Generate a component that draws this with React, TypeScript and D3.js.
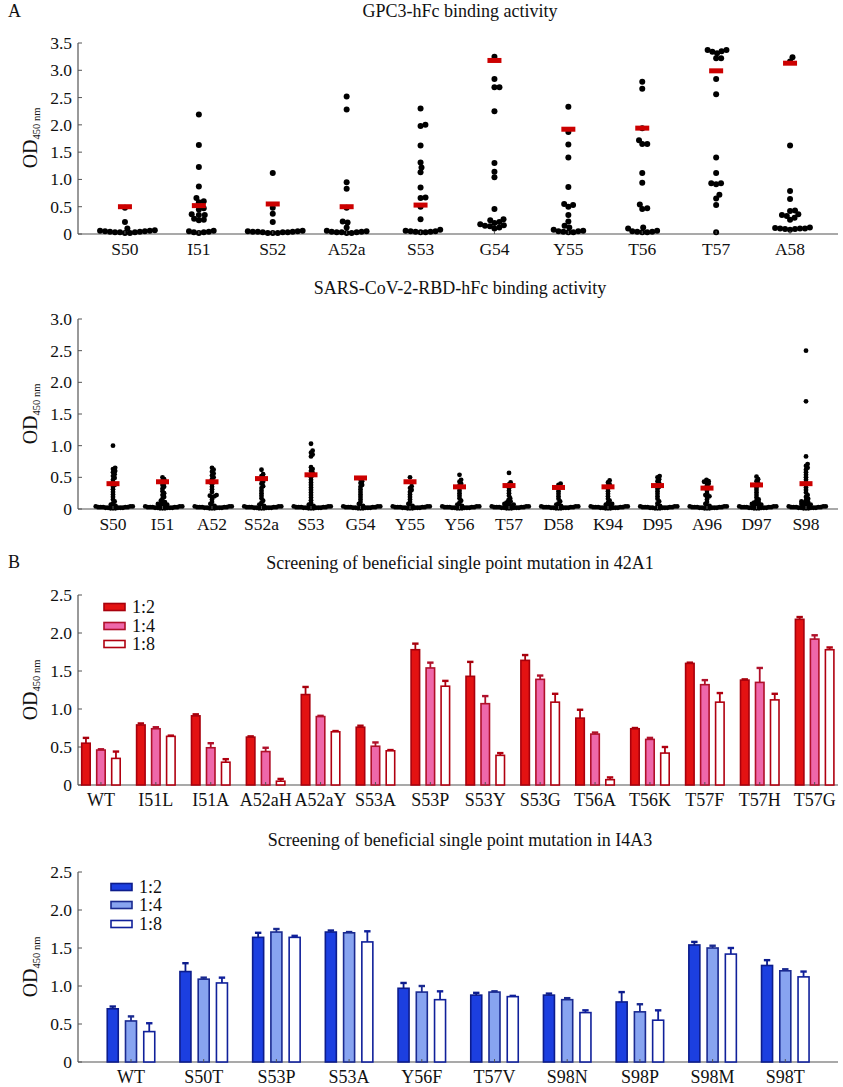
import React from 'react';
import * as d3 from 'd3';

// ---------- Panel A1: GPC3-hFc ----------
const gpcCategories = ['S50', 'I51', 'S52', 'A52a', 'S53', 'G54', 'Y55', 'T56', 'T57', 'A58'];
const gpcMeans = [0.5, 0.52, 0.55, 0.5, 0.53, 3.18, 1.92, 1.94, 2.99, 3.13];
const gpcS50 = [0.48, 0.22, 0.1, 0.07, 0.06, 0.05, 0.05, 0.04, 0.04, 0.03, 0.03, 0.03, 0.02, 0.02, 0.06];
const gpcI51 = [2.19, 1.63, 1.23, 0.87, 0.66, 0.6, 0.58, 0.47, 0.45, 0.36, 0.35, 0.35, 0.28, 0.26, 0.25, 0.06, 0.05, 0.04, 0.03, 0.03, 0.02];
const gpcS52 = [1.12, 0.48, 0.37, 0.22, 0.06, 0.05, 0.05, 0.04, 0.04, 0.04, 0.03, 0.03, 0.03, 0.02, 0.02, 0.02];
const gpcA52a = [2.52, 2.28, 0.95, 0.83, 0.48, 0.23, 0.21, 0.12, 0.06, 0.05, 0.04, 0.04, 0.03, 0.03, 0.03, 0.02, 0.02];
const gpcS53 = [2.3, 2.0, 1.98, 1.62, 1.31, 1.22, 1.13, 0.85, 0.67, 0.66, 0.5, 0.27, 0.08, 0.06, 0.05, 0.05, 0.04, 0.04, 0.03, 0.03];
const gpcG54 = [3.25, 2.84, 2.69, 2.69, 2.25, 1.3, 1.14, 1.04, 0.46, 0.27, 0.25, 0.22, 0.2, 0.18, 0.16, 0.15, 0.14, 0.12, 0.1];
const gpcY55 = [2.33, 1.87, 1.64, 1.4, 0.86, 0.55, 0.53, 0.5, 0.35, 0.23, 0.15, 0.12, 0.08, 0.06, 0.05, 0.05, 0.04, 0.03, 0.03];
const gpcT56 = [2.79, 2.66, 1.94, 1.72, 1.65, 1.65, 1.12, 0.94, 0.54, 0.47, 0.46, 0.12, 0.1, 0.06, 0.05, 0.04, 0.04, 0.03, 0.03];
const gpcT57 = [3.37, 3.31, 3.37, 3.35, 3.34, 3.22, 3.22, 2.84, 2.56, 1.4, 1.12, 0.93, 0.93, 0.91, 0.72, 0.65, 0.53, 0.03];
const gpcA58 = [3.24, 3.16, 1.62, 0.79, 0.64, 0.43, 0.42, 0.36, 0.35, 0.33, 0.3, 0.26, 0.12, 0.11, 0.1, 0.1, 0.1, 0.09, 0.09, 0.08];
const gpcValues = [gpcS50, gpcI51, gpcS52, gpcA52a, gpcS53, gpcG54, gpcY55, gpcT56, gpcT57, gpcA58];
const gpcTicks = [0, 0.5, 1.0, 1.5, 2.0, 2.5, 3.0, 3.5];

// ---------- Panel A2: SARS-CoV-2-RBD-hFc ----------
const sarsCategories = ['S50', 'I51', 'A52', 'S52a', 'S53', 'G54', 'Y55', 'Y56', 'T57', 'D58', 'K94', 'D95', 'A96', 'D97', 'S98'];
const sarsMeans = [0.4, 0.43, 0.43, 0.48, 0.54, 0.49, 0.43, 0.35, 0.37, 0.34, 0.35, 0.37, 0.33, 0.38, 0.4];
const sarsS50 = [1.0, 0.65, 0.63, 0.6, 0.58, 0.55, 0.52, 0.49, 0.46, 0.42, 0.38, 0.35, 0.31, 0.27, 0.23, 0.19, 0.15, 0.12, 0.09, 0.07, 0.05, 0.04, 0.04, 0.03, 0.03, 0.03, 0.02, 0.02, 0.02, 0.01, 0.01, 0.05, 0.04, 0.03, 0.02, 0.01, 0.03, 0.02];
const sarsI51 = [0.5, 0.47, 0.44, 0.41, 0.38, 0.35, 0.32, 0.28, 0.25, 0.22, 0.19, 0.16, 0.13, 0.11, 0.1, 0.08, 0.07, 0.06, 0.05, 0.04, 0.04, 0.03, 0.03, 0.03, 0.02, 0.02, 0.02, 0.01, 0.01, 0.05, 0.04, 0.03, 0.02, 0.01, 0.03, 0.02];
const sarsA52 = [0.65, 0.62, 0.59, 0.56, 0.53, 0.5, 0.47, 0.43, 0.39, 0.35, 0.31, 0.27, 0.22, 0.21, 0.2, 0.19, 0.15, 0.11, 0.08, 0.05, 0.04, 0.04, 0.03, 0.03, 0.03, 0.02, 0.02, 0.02, 0.01, 0.01, 0.05, 0.04, 0.03, 0.02, 0.01, 0.03, 0.02];
const sarsS52a = [0.62, 0.55, 0.52, 0.49, 0.46, 0.43, 0.4, 0.36, 0.33, 0.29, 0.25, 0.21, 0.17, 0.13, 0.1, 0.07, 0.05, 0.04, 0.04, 0.03, 0.03, 0.03, 0.02, 0.02, 0.02, 0.01, 0.01, 0.05, 0.04, 0.03, 0.02, 0.01, 0.03, 0.02];
const sarsS53 = [1.03, 0.92, 0.89, 0.86, 0.83, 0.66, 0.63, 0.6, 0.57, 0.54, 0.5, 0.46, 0.42, 0.38, 0.34, 0.3, 0.26, 0.22, 0.18, 0.14, 0.1, 0.07, 0.05, 0.04, 0.04, 0.03, 0.03, 0.03, 0.02, 0.02, 0.02, 0.01, 0.01, 0.05, 0.04, 0.03, 0.02, 0.01, 0.03, 0.02];
const sarsG54 = [0.47, 0.44, 0.41, 0.38, 0.35, 0.31, 0.27, 0.23, 0.19, 0.15, 0.11, 0.08, 0.05, 0.04, 0.04, 0.03, 0.03, 0.03, 0.02, 0.02, 0.02, 0.01, 0.01, 0.05, 0.04, 0.03, 0.02, 0.01, 0.03, 0.02];
const sarsY55 = [0.5, 0.36, 0.33, 0.3, 0.27, 0.23, 0.19, 0.15, 0.11, 0.08, 0.05, 0.04, 0.04, 0.03, 0.03, 0.03, 0.02, 0.02, 0.02, 0.01, 0.01, 0.05, 0.04, 0.03, 0.02, 0.01, 0.03, 0.02];
const sarsY56 = [0.54, 0.46, 0.43, 0.4, 0.37, 0.33, 0.29, 0.25, 0.21, 0.17, 0.13, 0.1, 0.07, 0.05, 0.04, 0.04, 0.03, 0.03, 0.03, 0.02, 0.02, 0.02, 0.01, 0.01, 0.05, 0.04, 0.03, 0.02, 0.01, 0.03, 0.02];
const sarsT57 = [0.57, 0.42, 0.39, 0.36, 0.33, 0.29, 0.25, 0.21, 0.17, 0.14, 0.12, 0.1, 0.09, 0.08, 0.07, 0.06, 0.05, 0.04, 0.04, 0.03, 0.03, 0.03, 0.02, 0.02, 0.02, 0.01, 0.01, 0.05, 0.04, 0.03, 0.02, 0.01, 0.03, 0.02];
const sarsD58 = [0.4, 0.38, 0.35, 0.32, 0.28, 0.24, 0.2, 0.16, 0.12, 0.09, 0.07, 0.05, 0.04, 0.04, 0.03, 0.03, 0.03, 0.02, 0.02, 0.02, 0.01, 0.01, 0.05, 0.04, 0.03, 0.02, 0.01, 0.03, 0.02];
const sarsK94 = [0.45, 0.42, 0.39, 0.36, 0.32, 0.28, 0.24, 0.2, 0.16, 0.13, 0.1, 0.08, 0.07, 0.05, 0.04, 0.04, 0.03, 0.03, 0.03, 0.02, 0.02, 0.02, 0.01, 0.01, 0.05, 0.04, 0.03, 0.02, 0.01, 0.03, 0.02];
const sarsD95 = [0.52, 0.5, 0.47, 0.44, 0.41, 0.38, 0.35, 0.32, 0.28, 0.24, 0.2, 0.16, 0.12, 0.09, 0.05, 0.04, 0.04, 0.03, 0.03, 0.03, 0.02, 0.02, 0.02, 0.01, 0.01, 0.05, 0.04, 0.03, 0.02, 0.01, 0.03, 0.02];
const sarsA96 = [0.46, 0.44, 0.43, 0.42, 0.4, 0.37, 0.33, 0.29, 0.25, 0.22, 0.2, 0.19, 0.15, 0.11, 0.08, 0.05, 0.04, 0.04, 0.03, 0.03, 0.03, 0.02, 0.02, 0.02, 0.01, 0.01, 0.05, 0.04, 0.03, 0.02, 0.01, 0.03, 0.02];
const sarsD97 = [0.51, 0.47, 0.44, 0.41, 0.38, 0.34, 0.3, 0.26, 0.22, 0.18, 0.15, 0.13, 0.11, 0.1, 0.09, 0.08, 0.07, 0.06, 0.05, 0.04, 0.04, 0.03, 0.03, 0.03, 0.02, 0.02, 0.02, 0.01, 0.01, 0.05, 0.04, 0.03, 0.02, 0.01, 0.03, 0.02];
const sarsS98 = [2.5, 1.7, 0.83, 0.71, 0.68, 0.65, 0.62, 0.58, 0.54, 0.5, 0.46, 0.42, 0.38, 0.34, 0.3, 0.26, 0.22, 0.19, 0.16, 0.14, 0.12, 0.11, 0.1, 0.09, 0.08, 0.07, 0.06, 0.05, 0.04, 0.04, 0.03, 0.03, 0.03, 0.02, 0.02, 0.02, 0.01, 0.01, 0.05, 0.04, 0.03, 0.02, 0.01, 0.03, 0.02];
const sarsValues = [sarsS50, sarsI51, sarsA52, sarsS52a, sarsS53, sarsG54, sarsY55, sarsY56, sarsT57, sarsD58, sarsK94, sarsD95, sarsA96, sarsD97, sarsS98];
const sarsTicks = [0, 0.5, 1.0, 1.5, 2.0, 2.5, 3.0];

// ---------- Panel B1: 42A1 ----------
const dilutions = ['1:2', '1:4', '1:8'];
const m42Categories = ['WT', 'I51L', 'I51A', 'A52aH', 'A52aY', 'S53A', 'S53P', 'S53Y', 'S53G', 'T56A', 'T56K', 'T57F', 'T57H', 'T57G'];
const m42Dil2 = [0.55, 0.79, 0.91, 0.63, 1.19, 0.76, 1.78, 1.43, 1.64, 0.88, 0.74, 1.6, 1.38, 2.18];
const m42Dil4 = [0.46, 0.74, 0.49, 0.44, 0.9, 0.51, 1.54, 1.07, 1.39, 0.67, 0.6, 1.32, 1.35, 1.92];
const m42Dil8 = [0.35, 0.64, 0.3, 0.05, 0.7, 0.45, 1.3, 0.39, 1.09, 0.07, 0.42, 1.09, 1.12, 1.78];
const m42Err2 = [0.07, 0.02, 0.02, 0.01, 0.1, 0.02, 0.08, 0.19, 0.07, 0.11, 0.01, 0.01, 0.01, 0.03];
const m42Err4 = [0.01, 0.02, 0.06, 0.05, 0.01, 0.05, 0.07, 0.1, 0.05, 0.02, 0.02, 0.06, 0.19, 0.05];
const m42Err8 = [0.09, 0.01, 0.04, 0.03, 0.01, 0.01, 0.07, 0.03, 0.11, 0.03, 0.08, 0.12, 0.08, 0.03];

// ---------- Panel B2: I4A3 ----------
const i4Categories = ['WT', 'S50T', 'S53P', 'S53A', 'Y56F', 'T57V', 'S98N', 'S98P', 'S98M', 'S98T'];
const i4Dil2 = [0.7, 1.19, 1.64, 1.71, 0.97, 0.88, 0.88, 0.79, 1.54, 1.27];
const i4Dil4 = [0.54, 1.09, 1.71, 1.7, 0.92, 0.92, 0.82, 0.66, 1.5, 1.2];
const i4Dil8 = [0.4, 1.04, 1.64, 1.58, 0.82, 0.86, 0.65, 0.55, 1.42, 1.12];
const i4Err2 = [0.03, 0.11, 0.06, 0.02, 0.07, 0.03, 0.02, 0.13, 0.04, 0.07];
const i4Err4 = [0.06, 0.02, 0.04, 0.01, 0.08, 0.01, 0.02, 0.1, 0.03, 0.02];
const i4Err8 = [0.11, 0.07, 0.02, 0.14, 0.11, 0.01, 0.03, 0.13, 0.08, 0.07];
const barTicks = [0, 0.5, 1.0, 1.5, 2.0, 2.5];

const FONT = '"Liberation Serif", "Times New Roman", serif';
const AXIS = '#555';
const MEAN_RED = '#cc0000';

function fmt(t: number) {
  return t === 0 ? '0' : t.toFixed(1);
}

function swarm(values: number[], y: (v: number) => number, d: number) {
  const pts = values.map((v) => ({ v, y: y(v) })).sort((a, b) => b.y - a.y);
  const placed: { x: number; y: number }[] = [];
  for (const p of pts) {
    const cands = [0];
    for (const q of placed) {
      const dy = q.y - p.y;
      if (Math.abs(dy) < d) {
        const dx = Math.sqrt(d * d - dy * dy);
        cands.push(q.x + dx, q.x - dx);
      }
    }
    cands.sort((a, b) => Math.abs(a) - Math.abs(b));
    let best = 0;
    for (const c of cands) {
      if (placed.every((q) => (q.x - c) ** 2 + (q.y - p.y) ** 2 >= d * d - 1e-6)) {
        best = c;
        break;
      }
    }
    placed.push({ x: best, y: p.y });
  }
  return placed;
}

function YAxis({ y, ticks, x0, x1 }: { y: any; ticks: number[]; x0: number; x1: number }) {
  const [r0, r1] = y.range();
  return (
    <g>
      <line x1={x0} x2={x0} y1={r0} y2={r1} stroke={AXIS} strokeWidth={1.2} />
      <line x1={x0} x2={x1} y1={r0} y2={r0} stroke={AXIS} strokeWidth={1.2} />
      {ticks.map((t) => (
        <g key={t}>
          <line x1={x0} x2={x0 + 4} y1={y(t)} y2={y(t)} stroke={AXIS} strokeWidth={1} />
          <text x={x0 - 6} y={y(t) + 6} textAnchor="end" fontSize={17.5} fontFamily={FONT} fill="#111">
            {fmt(t)}
          </text>
        </g>
      ))}
    </g>
  );
}

function YLabel({ cy }: { cy: number }) {
  return (
    <text transform={`translate(37, ${cy}) rotate(-90)`} textAnchor="middle" fontFamily={FONT} fill="#111">
      <tspan fontSize={20}>OD</tspan>
      <tspan fontSize={10.5} dy={3}>450 nm</tspan>
    </text>
  );
}

function XLabels({ x, cats, y0, fs }: { x: any; cats: string[]; y0: number; fs: number }) {
  return (
    <g>
      {cats.map((c) => (
        <g key={c}>
          <line x1={x(c) + x.bandwidth() / 2} x2={x(c) + x.bandwidth() / 2} y1={y0} y2={y0 - 3} stroke={AXIS} strokeWidth={1} />
          <text x={x(c) + x.bandwidth() / 2} y={y0 + 21} textAnchor="middle" fontSize={fs} fontFamily={FONT} fill="#111">
            {c}
          </text>
        </g>
      ))}
    </g>
  );
}

function DotPanel({
  cats, values, means, ticks, yTop, yBottom, xRange, r, d, markW, markH,
}: {
  cats: string[]; values: number[][]; means: number[]; ticks: number[]; yTop: number; yBottom: number;
  xRange: [number, number]; r: number; d: number; markW: number; markH: number;
}) {
  const y = d3.scaleLinear().domain([0, ticks[ticks.length - 1]]).range([yBottom, yTop]);
  const x = d3.scaleBand<string>().domain(cats).range(xRange).padding(0);
  return (
    <g>
      <YAxis y={y} ticks={ticks} x0={78} x1={838} />
      {cats.map((c, i) => {
        const cx = (x(c) as number) + x.bandwidth() / 2;
        const pts = swarm(values[i], y, d);
        return (
          <g key={c}>
            {pts.map((p, j) => (
              <circle key={j} cx={cx + p.x} cy={p.y} r={r} fill="#000" />
            ))}
            <rect x={cx - markW / 2} y={y(means[i]) - markH / 2} width={markW} height={markH} fill={MEAN_RED} />
          </g>
        );
      })}
      <XLabels x={x} cats={cats} y0={yBottom} fs={17.5} />
    </g>
  );
}

function BarPanel({
  cats, series, errs, yTop, yBottom, xRange, innerHalf, pad, fills, strokes, legendX, legendY,
}: {
  cats: string[]; series: number[][]; errs: number[][]; yTop: number; yBottom: number;
  xRange: [number, number]; innerHalf: number; pad: number; fills: string[]; strokes: string[];
  legendX: number; legendY: number[];
}) {
  const y = d3.scaleLinear().domain([0, 2.5]).range([yBottom, yTop]);
  const x = d3.scaleBand<string>().domain(cats).range(xRange).padding(0);
  const xi = d3.scaleBand<string>().domain(dilutions).range([-innerHalf, innerHalf]).paddingInner(pad).paddingOuter(0);
  const bw = xi.bandwidth();
  return (
    <g>
      <YAxis y={y} ticks={barTicks} x0={78} x1={838} />
      {cats.map((c, i) => {
        const cx = (x(c) as number) + x.bandwidth() / 2;
        return (
          <g key={c}>
            {dilutions.map((dl, k) => {
              const v = series[k][i];
              const e = errs[k][i];
              const bx = cx + (xi(dl) as number);
              const mid = bx + bw / 2;
              return (
                <g key={dl}>
                  <line x1={mid} x2={mid} y1={y(v)} y2={y(v + e)} stroke={strokes[k]} strokeWidth={1.8} />
                  <line x1={mid - 3.2} x2={mid + 3.2} y1={y(v + e)} y2={y(v + e)} stroke={strokes[k]} strokeWidth={2.4} />
                  <rect x={bx} y={y(v)} width={bw} height={y(0) - y(v)} fill={fills[k]} stroke={strokes[k]} strokeWidth={1.6} />
                </g>
              );
            })}
          </g>
        );
      })}
      <XLabels x={x} cats={cats} y0={yBottom} fs={18} />
      {dilutions.map((dl, k) => (
        <g key={dl}>
          <rect x={legendX} y={legendY[k] - 3.5} width={21} height={7} fill={fills[k]} stroke={strokes[k]} strokeWidth={1.6} />
          <text x={legendX + 28} y={legendY[k] + 6} fontSize={18} fontFamily={FONT} fill="#111">
            {dl}
          </text>
        </g>
      ))}
    </g>
  );
}

export default function App() {
  return (
    <svg width={843} height={1087} style={{ position: 'absolute', left: 0, top: 0, background: '#fff' }} fontFamily={FONT}>
      <rect width={843} height={1087} fill="#fff" />
      <text x={8} y={17} fontSize={18} fill="#111">A</text>
      <text x={460} y={17} fontSize={18} textAnchor="middle" fill="#111">GPC3-hFc binding activity</text>
      <YLabel cy={138} />
      <DotPanel cats={gpcCategories} values={gpcValues} means={gpcMeans} ticks={gpcTicks}
        yTop={43} yBottom={234} xRange={[88, 827]} r={3} d={5} markW={14} markH={5} />

      <text x={460} y={294} fontSize={18} textAnchor="middle" fill="#111">SARS-CoV-2-RBD-hFc binding activity</text>
      <YLabel cy={414} />
      <DotPanel cats={sarsCategories} values={sarsValues} means={sarsMeans} ticks={sarsTicks}
        yTop={319} yBottom={509} xRange={[88.25, 830.75]} r={2.4} d={2.5} markW={13} markH={5} />

      <text x={8} y={568} fontSize={18} fill="#111">B</text>
      <text x={460} y={569} fontSize={18} textAnchor="middle" fill="#111">Screening of beneficial single point mutation in 42A1</text>
      <YLabel cy={690} />
      <BarPanel cats={m42Categories} series={[m42Dil2, m42Dil4, m42Dil8]} errs={[m42Err2, m42Err4, m42Err8]}
        yTop={595} yBottom={785} xRange={[73.5, 842.1]} innerHalf={19.25} pad={0.433}
        fills={['#e31212', '#ee68aa', '#ffffff']} strokes={['#a8000c', '#b0102a', '#b00010']}
        legendX={104} legendY={[607, 626, 644]} />

      <text x={460} y={846} fontSize={18} textAnchor="middle" fill="#111">Screening of beneficial single point mutation in I4A3</text>
      <YLabel cy={967} />
      <BarPanel cats={i4Categories} series={[i4Dil2, i4Dil4, i4Dil8]} errs={[i4Err2, i4Err4, i4Err8]}
        yTop={872} yBottom={1062} xRange={[94.65, 821.65]} innerHalf={23.75} pad={0.397}
        fills={['#1c3fe0', '#88a4f0', '#ffffff']} strokes={['#0c1c8c', '#1a2a90', '#10209a']}
        legendX={111} legendY={[887, 905, 924]} />
    </svg>
  );
}
